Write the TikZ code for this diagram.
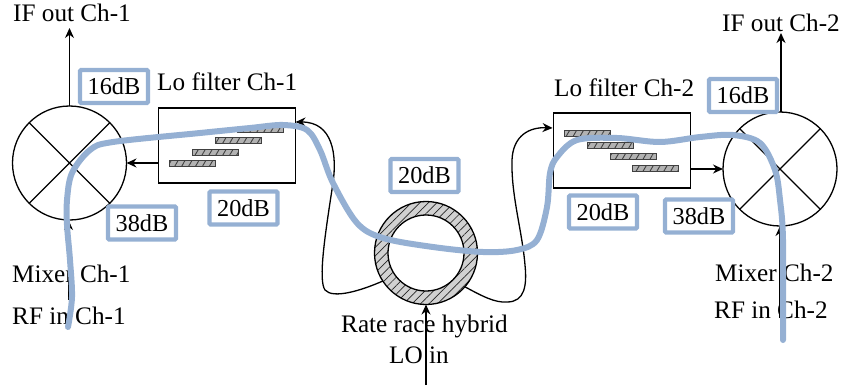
\documentclass[tikz,border=0pt]{standalone}
\usepackage{fontspec}
\setmainfont{Liberation Serif}
\usetikzlibrary{arrows.meta,patterns.meta}
\definecolor{hl}{HTML}{95B0D3}
\tikzset{
  txt/.style={anchor=base west,inner sep=0pt,font=\fontsize{25.2}{28}\selectfont},
  mixer/.style={circle,draw=black,line width=1.3pt,minimum size=114pt,inner sep=0pt,outer sep=0pt},
  filterbox/.style={rectangle,draw=black,line width=1.3pt,minimum width=137pt,minimum height=75pt,inner sep=0pt,outer sep=0pt},
  bar/.style={rectangle,draw=black!75,line width=.8pt,minimum width=46pt,minimum height=6pt,inner sep=0pt,
    preaction={fill=black!30},pattern={Lines[angle=60,distance=6pt,line width=.9pt]},pattern color=black!75},
  gain/.style={rectangle,draw=hl,fill=white,line width=4.2pt,rounded corners=1pt,minimum width=68pt,minimum height=33pt,
    inner sep=0pt,text height=16pt,text depth=0pt,font=\fontsize{24.3}{28}\selectfont},
  wire/.style={line width=1.3pt,draw=black},
  arrowed/.style={wire,-{Stealth[length=10pt,width=9pt]}},
  trace/.style={draw=hl,line width=6pt,line cap=round,line join=round}
}
\begin{document}
\begin{tikzpicture}[x=1pt,y=-1pt]
\useasboundingbox (0,0) rectangle (842,385);
% mixers
\node[mixer] (mix1) at (69.5,163) {};
\node[mixer] (mix2) at (780,169) {};
\draw[wire] (mix1.45) -- (mix1.225) (mix1.135) -- (mix1.315);
\draw[wire] (mix2.45) -- (mix2.225) (mix2.135) -- (mix2.315);
% filters
\node[filterbox] (f1) at (227,145.5) {};
\node[filterbox] (f2) at (622,150.5) {};
\node[bar] (b11) at (192,163) {};
\node[bar] (b12) at (215,152) {};
\node[bar] (b13) at (238,140.3) {};
\node[bar] (b14) at (260.5,129) {};
\node[bar] (b21) at (587,133.7) {};
\node[bar] (b22) at (610,145.3) {};
\node[bar] (b23) at (633,156.5) {};
\node[bar] (b24) at (655,168) {};
% hybrid ring
\node[circle,draw=black,line width=1.3pt,minimum size=103pt,inner sep=0pt,outer sep=0pt,
  preaction={fill=black!18},pattern={Lines[angle=45,distance=6pt,line width=.7pt]},pattern color=black!85] (hyb) at (426,253) {};
\node[circle,draw=black,fill=white,line width=1.3pt,minimum size=76pt,inner sep=0pt,outer sep=0pt] (hybin) at (426,253) {};
% free ends
\coordinate (if1) at (69.5,28);
\coordinate (rf1) at (68.5,300);
\coordinate (if2) at (781,33);
\coordinate (rf2) at (780,318);
\coordinate (lo) at (426,385);
\coordinate (f1in) at (295.5,122);
\coordinate (f2in) at (552.5,128);
\coordinate (f1out) at (158.5,163);
\coordinate (f2out) at (691,169);
% arrows
\draw[arrowed] (mix1.north) -- (if1);
\draw[arrowed] (mix2.north -| if2) -- (if2);
\draw[arrowed] (rf1) -- (mix1.south -| rf1);
\draw[arrowed] (rf2) -- (mix2.south -| rf2);
\draw[arrowed] (lo) -- (hyb.south);
\draw[arrowed] (f1out) -- (mix1.east);
\draw[arrowed] (f2out) -- (mix2.west);
\draw[arrowed] (hyb.213) .. controls (360,291) and (333,299) .. (325,290)
  .. controls (318,280) and (325,235) .. (333,183)
  .. controls (337,155) and (333,122) .. (f1in);
\draw[arrowed] (hyb.319) .. controls (482,296) and (495,303) .. (507,302)
  .. controls (525,302) and (527,285) .. (525,265)
  .. controls (522,230) and (511,195) .. (512,160)
  .. controls (513,135) and (530,127) .. (f2in);
% texts
\node[txt] (t1) at (13,22) {IF out Ch-1};
\node[txt] (t2) at (157,91) {Lo filter Ch-1};
\node[txt] (t3) at (12,282) {Mixer Ch-1};
\node[txt] (t4) at (12,324) {RF in Ch-1};
\node[txt] (t5) at (341,332) {Rate race hybrid};
\node[txt] (t6) at (389,363) {LO in};
\node[txt] (t7) at (722,32) {IF out Ch-2};
\node[txt] (t8) at (554,97) {Lo filter Ch-2};
\node[txt] (t9) at (715,281) {Mixer Ch-2};
\node[txt] (t10) at (714,318) {RF in Ch-2};
% gain labels
\node[gain] (g1) at (114,86.5) {16dB};
\node[gain] (g2) at (142,223) {38dB};
\node[gain] (g3) at (243.5,208) {20dB};
\node[gain] (g4) at (424.5,175.5) {20dB};
\node[gain] (g5) at (743,95.5) {16dB};
\node[gain] (g6) at (603,212) {20dB};
\node[gain] (g7) at (699,216) {38dB};
% highlighted trace
\draw[trace] plot[smooth,tension=0.55] coordinates {
  (68,327) (72,297) (70,260) (67,225) (67,200) (72,173) (90,150) (113,142) (200,133) (250,128) (283,125) (307,130)
  (320,150) (333,183) (357,223) (383,238) (433,247) (483,252) (517,250) (537,240) (547,207) (550,173) (557,157)
  (577,140) (617,138) (660,142) (700,137) (733,135) (760,143) (775,170) (780,200) (783,240) (783,340)};
\end{tikzpicture}
\end{document}
